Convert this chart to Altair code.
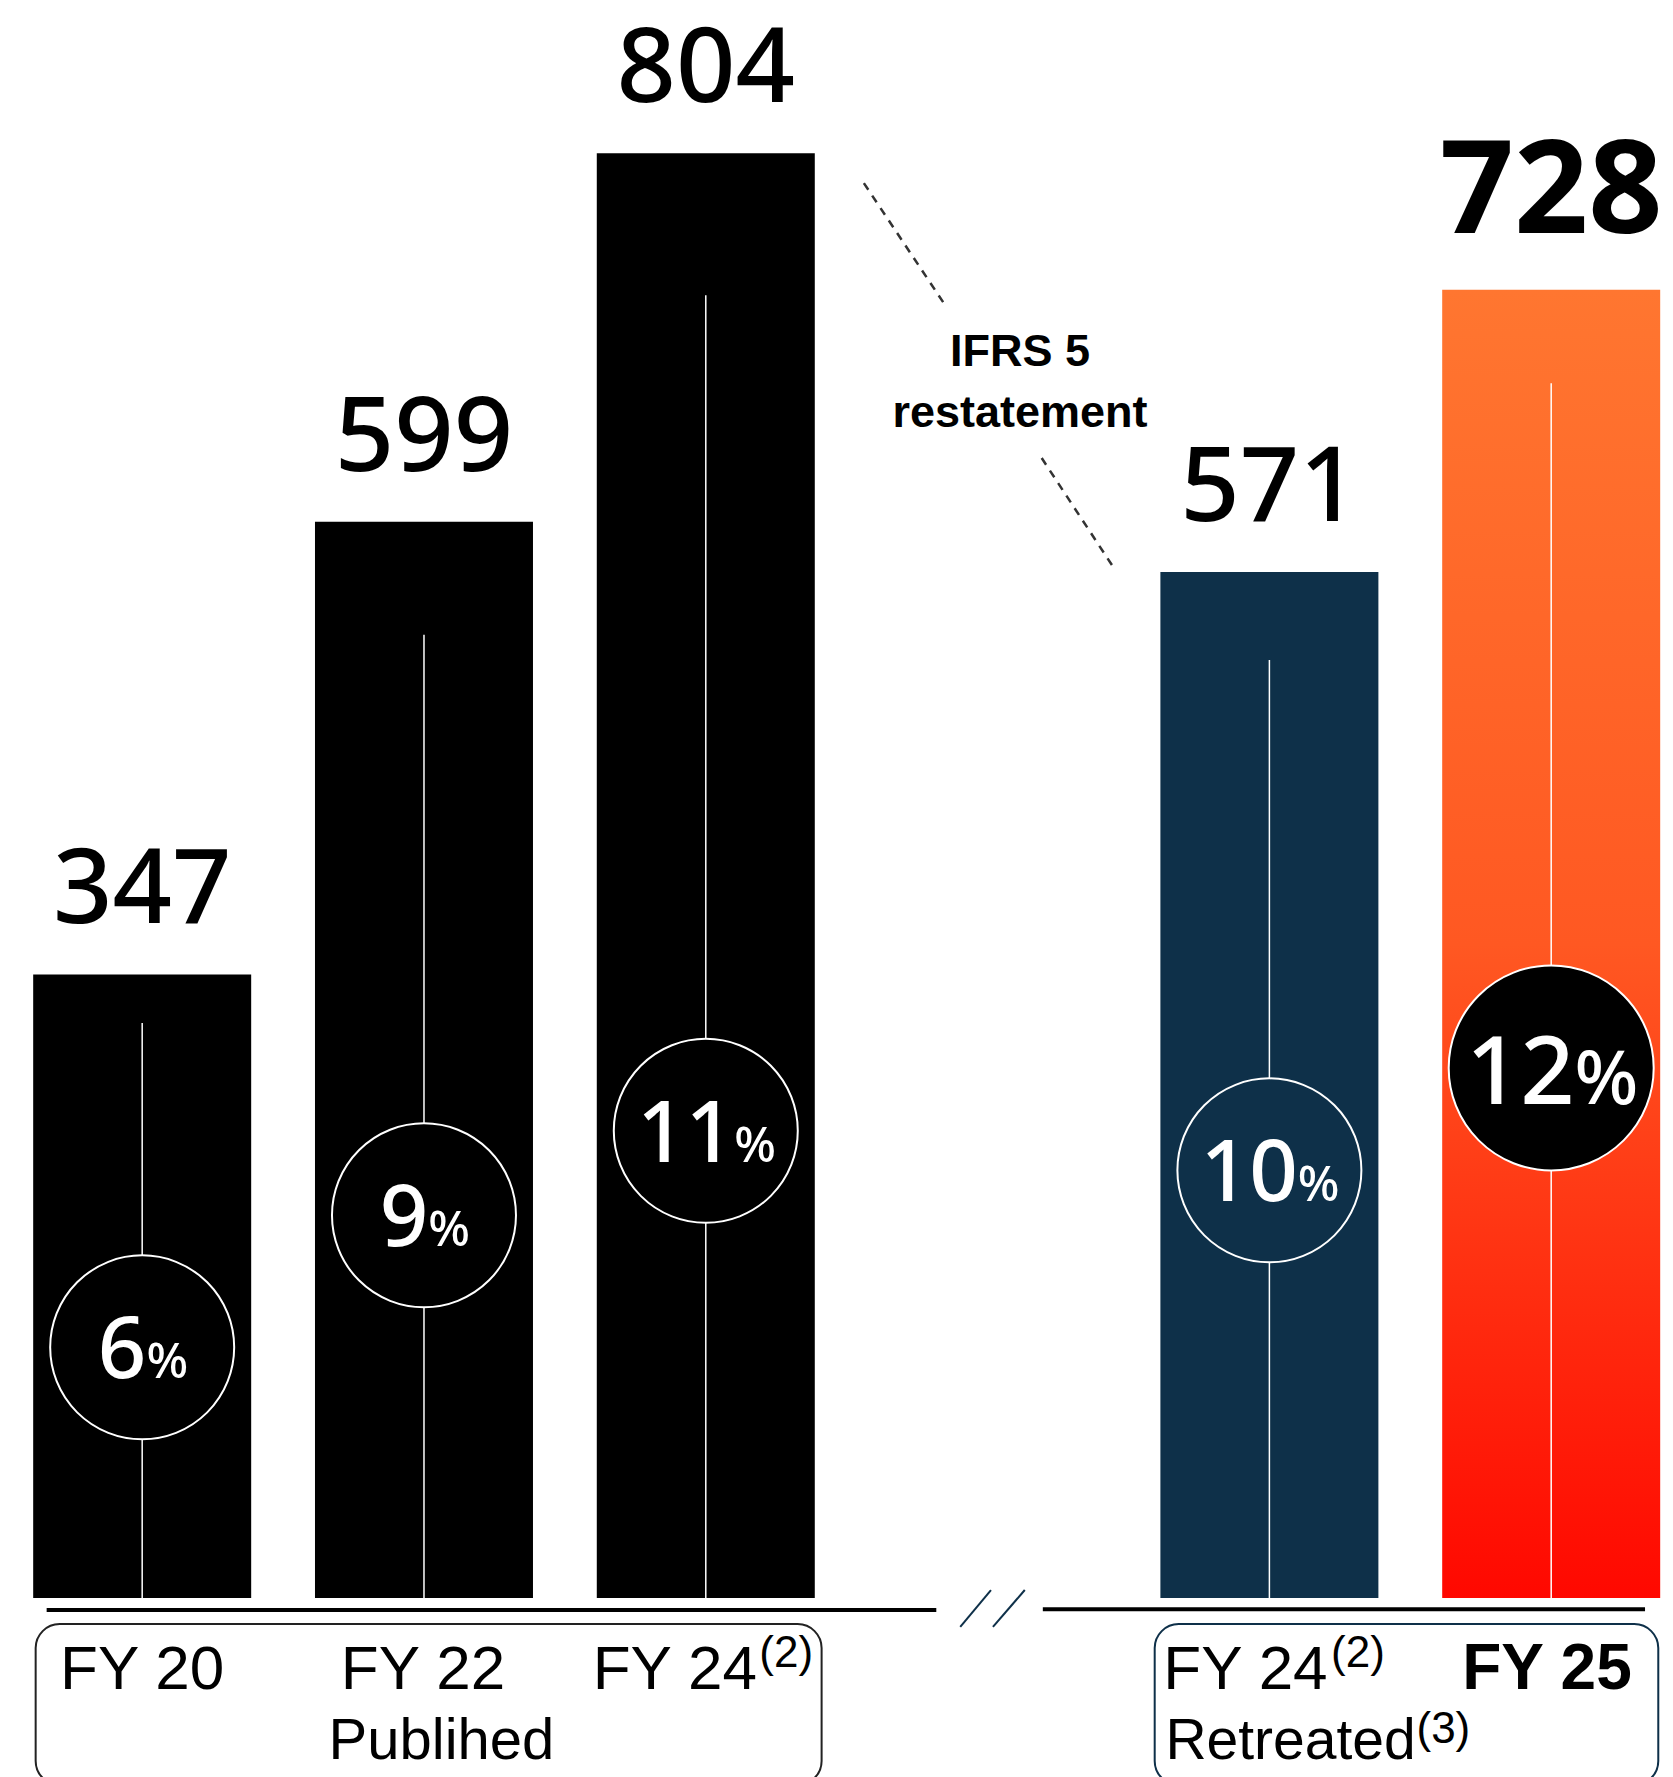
import altair as alt
import pandas as pd

# ---------------- data ----------------
labels = ["FY 20", "FY 22", "FY 24", "FY 24", "FY 25"]
slots = [0, 1, 2, 4, 5]
values = [347, 599, 804, 571, 728]
margins = ["6", "9", "11", "10", "12"]
bar_colors = ["#000000", "#000000", "#000000", "#0e3049", "#ff5a20"]
circle_fills = ["#000000", "#000000", "#000000", "#0e3049", "#000000"]
circle_levels = [139.5, 213, 260, 238, 295]
guide_tops = [320, 536, 725, 522, 676]

W, H = 1673, 1777
X_DOMAIN = [-0.4868, 5.4145]
Y_DOMAIN = [-99.6, 889.3]
UNIT = W / (X_DOMAIN[1] - X_DOMAIN[0])  # pixels per slot

df = pd.DataFrame(dict(label=labels, slot=slots, value=values, margin=margins,
                       bar_color=bar_colors, circle_fill=circle_fills,
                       circle_level=circle_levels, guide_top=guide_tops))

xs = alt.Scale(domain=X_DOMAIN, nice=False, zero=False)
ys = alt.Scale(domain=Y_DOMAIN, nice=False, zero=False)


def X(f):
    return alt.X(f, type="quantitative", scale=xs, axis=None)


def Y(f):
    return alt.Y(f, type="quantitative", scale=ys, axis=None)


base = alt.Chart(df)
main = base.transform_filter("datum.slot < 5")
last = base.transform_filter("datum.slot == 5")

bars = main.mark_bar(size=218).encode(
    x=X("slot"), y=Y("value"), y2=alt.datum(0),
    color=alt.Color("bar_color:N", scale=None))

grad = alt.LinearGradient(
    gradient="linear",
    stops=[alt.GradientStop(color="#ff7630", offset=0),
           alt.GradientStop(color="#ff5822", offset=0.5),
           alt.GradientStop(color="#ff0800", offset=1)],
    x1=0, x2=0, y1=0, y2=1)
bar_last = last.mark_bar(size=218, color=grad).encode(
    x=X("slot"), y=Y("value"), y2=alt.datum(0))

guides = base.mark_rule(color="white", strokeWidth=1.5).encode(
    x=X("slot"), y=Y("guide_top"), y2=alt.datum(0))

circ = main.mark_circle(size=33856, stroke="white", strokeWidth=2, opacity=1).encode(
    x=X("slot"), y=Y("circle_level"), fill=alt.Fill("circle_fill:N", scale=None))
circ_last = last.mark_circle(size=42025, stroke="white", strokeWidth=2, opacity=1).encode(
    x=X("slot"), y=Y("circle_level"), fill=alt.Fill("circle_fill:N", scale=None))

pm = main.transform_calculate(
    split=f"datum.slot + (length(datum.margin)*48.6 - 40)/2/{UNIT}")
digits = pm.mark_text(align="right", baseline="alphabetic", font="Noto Sans", fontSize=85,
                      fontWeight=500, color="white", dy=31).encode(
    x=X("split"), y=Y("circle_level"), text="margin:N")
pcts = pm.mark_text(align="left", baseline="alphabetic", font="Noto Sans", fontSize=49,
                    fontWeight=500, color="white", dy=31).encode(
    x=X("split"), y=Y("circle_level"), text=alt.value("%"))

pl = last.transform_calculate(
    split=f"datum.slot + (length(datum.margin)*54.3 - 61.5)/2/{UNIT}")
digits_l = pl.mark_text(align="right", baseline="alphabetic", font="Noto Sans", fontSize=95,
                        fontWeight=500, color="white", dy=36).encode(
    x=X("split"), y=Y("circle_level"), text="margin:N")
pcts_l = pl.mark_text(align="left", baseline="alphabetic", font="Noto Sans", fontSize=75,
                      fontWeight=500, color="white", dy=36).encode(
    x=X("split"), y=Y("circle_level"), text=alt.value("%"))

vals = main.mark_text(baseline="alphabetic", font="Noto Sans", fontSize=104, fontWeight=500,
                      color="black", dy=-51).encode(
    x=X("slot"), y=Y("value"), text="value:Q")
vals_l = last.mark_text(baseline="alphabetic", font="Noto Sans", fontSize=130, fontWeight="bold",
                        color="black", dy=-57).encode(
    x=X("slot"), y=Y("value"), text="value:Q")


def seg(x, x2, y, y2, **kw):
    d = pd.DataFrame({"x": [x], "x2": [x2], "y": [y], "y2": [y2]})
    return alt.Chart(d).mark_rule(**kw).encode(x=X("x"), x2="x2", y=Y("y"), y2="y2")


def box(x, x2, y, y2, stroke):
    d = pd.DataFrame({"x": [x], "x2": [x2], "y": [y], "y2": [y2]})
    return alt.Chart(d).mark_rect(cornerRadius=24, fillOpacity=0, stroke=stroke,
                                  strokeWidth=2).encode(x=X("x"), x2="x2", y=Y("y"), y2="y2")


def txt(s, x, y, **kw):
    d = pd.DataFrame({"t": [s], "x": [x], "y": [y]})
    kw.setdefault("baseline", "alphabetic")
    kw.setdefault("color", "black")
    return alt.Chart(d).mark_text(**kw).encode(x=X("x"), y=Y("y"), text="t:N")


NAVY = "#0e3049"
annots = [
    seg(-0.339, 2.818, -6.7, -6.7, color="black", strokeWidth=4),
    seg(3.196, 5.333, -6.2, -6.2, color="black", strokeWidth=4),
    seg(2.903, 3.012, -16.1, 4.45, color=NAVY, strokeWidth=2),
    seg(3.019, 3.132, -16.1, 4.45, color=NAVY, strokeWidth=2),
    seg(2.561, 2.854, 787.4, 718.4, color="#333333", strokeWidth=2.5, strokeDash=[8, 7]),
    seg(3.192, 3.446, 634.4, 573.7, color="#333333", strokeWidth=2.5, strokeDash=[8, 7]),
    box(-0.378, 2.411, -14.5, -104, "#222222"),
    box(3.593, 5.380, -14.5, -104, NAVY),
    txt("IFRS 5", 3.115, 685.6, font="Liberation Sans", fontSize=45, fontWeight="bold"),
    txt("restatement", 3.115, 651.6, font="Liberation Sans", fontSize=45, fontWeight="bold"),
    txt("FY 20", 0.0, -50.6, font="Liberation Sans", fontSize=62),
    txt("FY 22", 0.9965, -50.6, font="Liberation Sans", fontSize=62),
    txt("FY 24", 1.89, -50.6, font="Liberation Sans", fontSize=62),
    txt("(2)", 2.190, -38.4, font="Liberation Sans", fontSize=44, align="left"),
    txt("Publihed", 1.062, -89.6, font="Liberation Sans", fontSize=58),
    txt("FY 24", 3.915, -50.6, font="Liberation Sans", fontSize=62),
    txt("(2)", 4.219, -38.4, font="Liberation Sans", fontSize=44, align="left"),
    txt("FY 25", 4.985, -50.6, font="Liberation Sans", fontSize=64, fontWeight="bold"),
    txt("Retreated", 3.631, -89.6, font="Liberation Sans", fontSize=57, align="left"),
    txt("(3)", 4.522, -80.7, font="Liberation Sans", fontSize=44, align="left"),
]

chart = alt.layer(
    bars, bar_last, guides, circ, circ_last, digits, pcts, digits_l, pcts_l,
    vals, vals_l, *annots
).properties(
    width=W, height=H, padding=0, autosize=alt.AutoSizeParams(type="none"),
    background="white"
).configure_view(stroke=None)

chart.save("out.html", embed_options={"renderer": "svg", "actions": False})
